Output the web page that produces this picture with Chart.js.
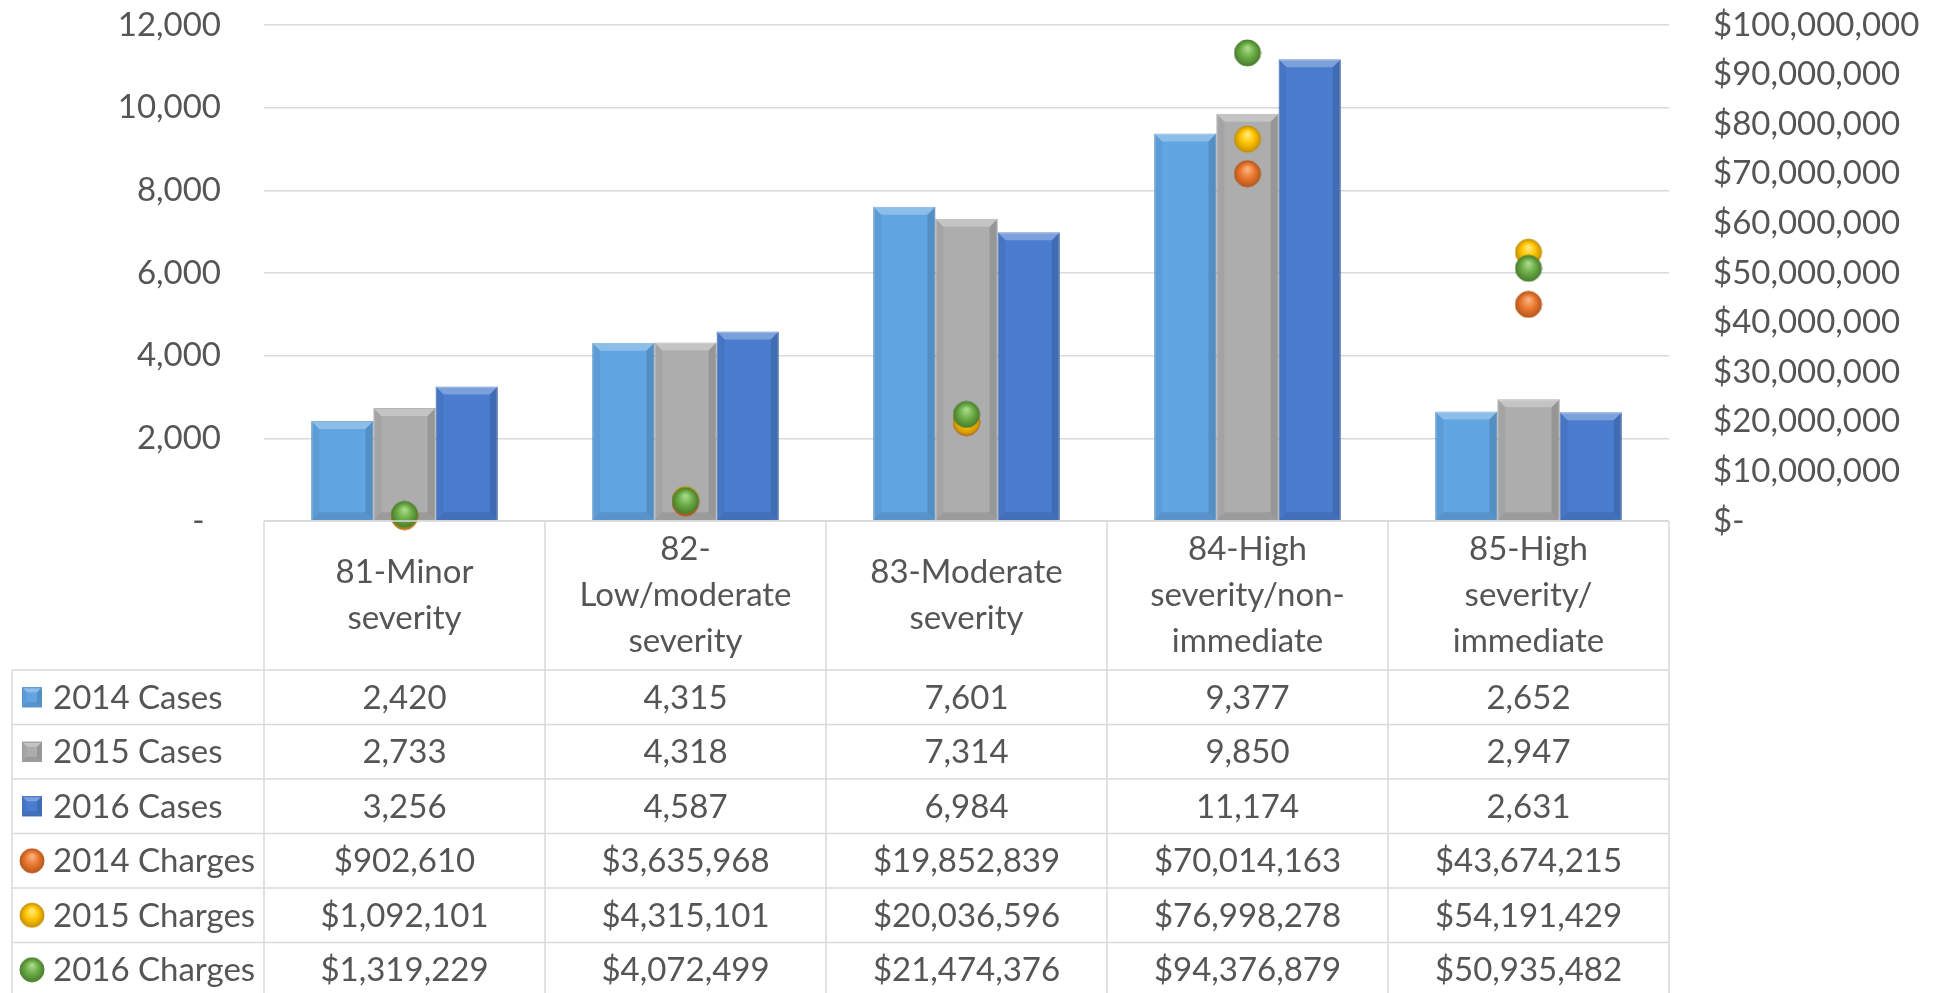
<!DOCTYPE html>
<html><head><meta charset="utf-8">
<script src="https://cdn.jsdelivr.net/npm/chart.js@4.4.1/dist/chart.umd.min.js"></script>
<style>html,body{margin:0;padding:0;background:#fff;overflow:hidden}canvas{display:block}</style>
</head><body>
<canvas id="c" width="1946" height="993"></canvas>
<script>
// ---------- DATA ----------
const categories = [
  ['81-Minor','severity'],
  ['82-','Low/moderate','severity'],
  ['83-Moderate','severity'],
  ['84-High','severity/non-','immediate'],
  ['85-High','severity/','immediate']
];
const cases2014 = [2420, 4315, 7601, 9377, 2652];
const cases2015 = [2733, 4318, 7314, 9850, 2947];
const cases2016 = [3256, 4587, 6984, 11174, 2631];
const charges2014 = [902610, 3635968, 19852839, 70014163, 43674215];
const charges2015 = [1092101, 4315101, 20036596, 76998278, 54191429];
const charges2016 = [1319229, 4072499, 21474376, 94376879, 50935482];
const seriesNames = ['2014 Cases','2015 Cases','2016 Cases','2014 Charges','2015 Charges','2016 Charges'];
const leftTickLabels = ['-\u2002','2,000','4,000','6,000','8,000','10,000','12,000'];
const rightTickLabels = ['$-','$10,000,000','$20,000,000','$30,000,000','$40,000,000','$50,000,000','$60,000,000','$70,000,000','$80,000,000','$90,000,000','$100,000,000'];

// ---------- STYLE ----------
const FONT = 'Lato, "Open Sans", sans-serif';
const TXT = '#555555';
const GRID = '#D9D9D9';
const barColors = ['#61A5E2', '#ADADAD', '#4A7CCF'];
const barBorders = ['#5590C8', '#999999', '#3F6CBC'];

function makeBall(light, base, dark, stroke) {
  const s = 28, c = document.createElement('canvas');
  c.width = c.height = s;
  const g = c.getContext('2d');
  const r = 13, m = 14;
  const grad = g.createRadialGradient(m, m - 5, 1, m, m, r);
  grad.addColorStop(0, light);
  grad.addColorStop(0.5, base);
  grad.addColorStop(1, dark);
  g.beginPath(); g.arc(m, m, r, 0, Math.PI * 2);
  g.fillStyle = grad; g.fill();
  g.lineWidth = 1; g.strokeStyle = stroke; g.stroke();
  return c;
}
const balls = [
  makeBall('#F7B27F', '#EC7A32', '#B9571A', '#B4561C'),
  makeBall('#FFEA7A', '#FFC400', '#C99300', '#C08E0A'),
  makeBall('#A9D98A', '#6DAE47', '#4A7F2E', '#4D7D33')
];

function poly(ctx, pts, fill) {
  ctx.beginPath();
  ctx.moveTo(pts[0][0], pts[0][1]);
  for (let i = 1; i < pts.length; i++) ctx.lineTo(pts[i][0], pts[i][1]);
  ctx.closePath();
  ctx.fillStyle = fill; ctx.fill();
}
function bevelRect(ctx, l, t, r, b, bv) {
  poly(ctx, [[l,t],[r,t],[r-bv,t+bv],[l+bv,t+bv]], 'rgba(255,255,255,0.28)');
  poly(ctx, [[l,t],[l+bv,t+bv],[l+bv,b-bv],[l,b]], 'rgba(0,0,0,0.05)');
  poly(ctx, [[r,t],[r-bv,t+bv],[r-bv,b-bv],[r,b]], 'rgba(0,0,0,0.13)');
  poly(ctx, [[l,b],[l+bv,b-bv],[r-bv,b-bv],[r,b]], 'rgba(0,0,0,0.10)');
}

const bevelPlugin = {
  id: 'bevel',
  afterDatasetDraw(chart, args) {
    const meta = args.meta;
    if (meta.type !== 'bar') return;
    const ctx = chart.ctx;
    ctx.save();
    meta.data.forEach(el => {
      const p = el.getProps(['x','y','base','width'], true);
      const l = p.x - p.width / 2, r = p.x + p.width / 2;
      const t = Math.min(p.y, p.base), b = Math.max(p.y, p.base);
      bevelRect(ctx, l, t, r, b, 8);
    });
    ctx.restore();
  }
};

const tablePlugin = {
  id: 'dataTable',
  afterDraw(chart) {
    const ctx = chart.ctx, area = chart.chartArea;
    const n = categories.length;
    const cw = (area.right - area.left) / n;
    const top = area.bottom;
    const headerBottom = top + 149;
    const rowH = 54.5;
    const tableLeft = 12;
    const bottom = headerBottom + rowH * 6;
    ctx.save();
    ctx.strokeStyle = GRID; ctx.lineWidth = 1.5;
    ctx.beginPath();
    ctx.moveTo(area.left, top); ctx.lineTo(area.right, top);
    for (let k = 0; k <= 6; k++) {
      const y = headerBottom + k * rowH;
      ctx.moveTo(tableLeft, y); ctx.lineTo(area.right, y);
    }
    for (let i = 0; i <= n; i++) {
      const x = area.left + i * cw;
      ctx.moveTo(x, top); ctx.lineTo(x, bottom);
    }
    ctx.moveTo(tableLeft, headerBottom); ctx.lineTo(tableLeft, bottom);
    ctx.stroke();

    ctx.fillStyle = TXT;
    ctx.font = '33px ' + FONT;
    ctx.textAlign = 'center'; ctx.textBaseline = 'middle';
    const lh = 46;
    const hc = (top + headerBottom) / 2;
    categories.forEach((lines, i) => {
      const cx = area.left + (i + 0.5) * cw;
      const y0 = hc - (lines.length - 1) * lh / 2;
      lines.forEach((s, j) => ctx.fillText(s, cx, y0 + j * lh));
    });
    const fmtN = v => v.toLocaleString('en-US');
    const fmtD = v => '$' + v.toLocaleString('en-US');
    const rows = [cases2014.map(fmtN), cases2015.map(fmtN), cases2016.map(fmtN),
                  charges2014.map(fmtD), charges2015.map(fmtD), charges2016.map(fmtD)];
    rows.forEach((row, k) => {
      const cy = headerBottom + (k + 0.5) * rowH;
      row.forEach((s, i) => ctx.fillText(s, area.left + (i + 0.5) * cw, cy + 1));
    });
    ctx.textAlign = 'left';
    seriesNames.forEach((name, k) => {
      const cy = headerBottom + (k + 0.5) * rowH;
      if (k < 3) {
        const l = 22, t = cy - 10, s = 20;
        ctx.fillStyle = barColors[k];
        ctx.fillRect(l, t, s, s);
        bevelRect(ctx, l, t, l + s, t + s, 5);
        ctx.strokeStyle = barBorders[k]; ctx.lineWidth = 1;
        ctx.strokeRect(l + 0.5, t + 0.5, s - 1, s - 1);
      } else {
        ctx.drawImage(balls[k - 3], 32 - 13, cy - 13, 26, 26);
      }
      ctx.fillStyle = TXT;
      ctx.fillText(name, 53, cy + 1);
    });
    ctx.restore();
  }
};

function build() {
  const barDs = (label, data, i) => ({
    type: 'bar', label, data, yAxisID: 'y', order: 10,
    backgroundColor: barColors[i], borderColor: barBorders[i], borderWidth: 1,
    categoryPercentage: 0.664, barPercentage: 1
  });
  const ptDs = (label, data, i) => ({
    type: 'line', label, data, yAxisID: 'y2', showLine: false, clip: false,
    pointStyle: balls[i], pointRadius: 13, pointHoverRadius: 13, order: 3 - i
  });
  new Chart(document.getElementById('c'), {
    data: {
      labels: categories.map(c => c.join(' ')),
      datasets: [
        barDs(seriesNames[0], cases2014, 0),
        barDs(seriesNames[1], cases2015, 1),
        barDs(seriesNames[2], cases2016, 2),
        ptDs(seriesNames[3], charges2014, 0),
        ptDs(seriesNames[4], charges2015, 1),
        ptDs(seriesNames[5], charges2016, 2)
      ]
    },
    options: {
      responsive: false, animation: false,
      layout: { padding: { top: 25, bottom: 472, left: 0, right: 0 } },
      plugins: { legend: { display: false }, tooltip: { enabled: false } },
      scales: {
        x: {
          type: 'category', offset: true,
          grid: { display: false }, border: { display: false },
          ticks: { display: false },
          afterFit(s) { s.height = 0; s.paddingLeft = 0; s.paddingRight = 0; }
        },
        y: {
          position: 'left', min: 0, max: 12000,
          ticks: { stepSize: 2000, padding: 43, color: TXT, font: { family: FONT, size: 33 },
                   callback: (v, i) => leftTickLabels[i] },
          grid: { color: GRID, lineWidth: 1.5, drawTicks: false },
          border: { display: false },
          afterFit(s) { s.width = 264; s.paddingTop = 0; s.paddingBottom = 0; }
        },
        y2: {
          position: 'right', min: 0, max: 100000000,
          ticks: { stepSize: 10000000, padding: 44, color: TXT, font: { family: FONT, size: 33 },
                   callback: (v, i) => rightTickLabels[i] },
          grid: { display: false, drawTicks: false },
          border: { display: false },
          afterFit(s) { s.width = 277; s.paddingTop = 0; s.paddingBottom = 0; }
        }
      }
    },
    plugins: [bevelPlugin, tablePlugin]
  });
}
(document.fonts && document.fonts.load ? document.fonts.load('33px Lato').catch(() => {}) : Promise.resolve()).then(build);
</script>
</body></html>
